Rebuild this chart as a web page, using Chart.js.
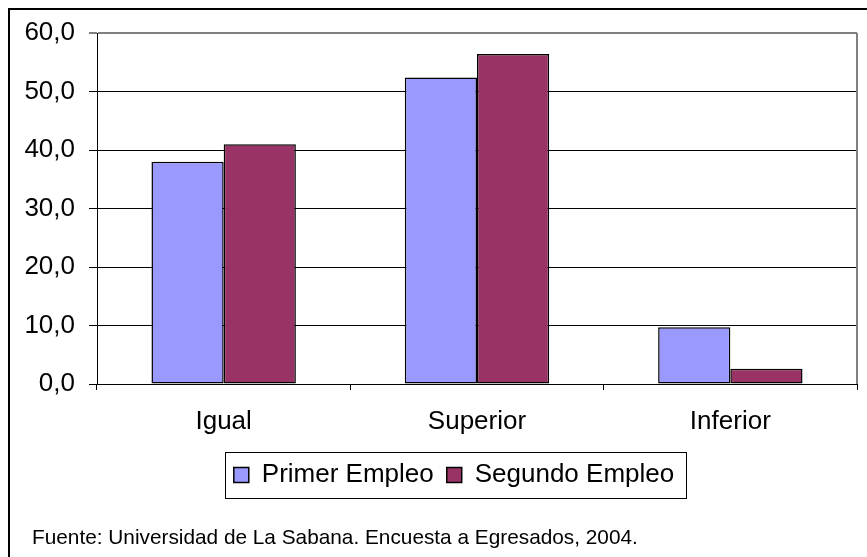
<!DOCTYPE html>
<html>
<head>
<meta charset="utf-8">
<script src="https://cdn.jsdelivr.net/npm/chart.js@4.4.0/dist/chart.umd.min.js"></script>
<style>
    html, body { margin: 0; padding: 0; background: #fff; }
    #wrap { width: 867px; height: 557px; }
</style>
</head>
<body>
<div id="wrap"><canvas id="empleoChart" width="867" height="557"></canvas></div>
<script>
const categories = ['Igual', 'Superior', 'Inferior'];
const primerEmpleo = [38.0, 52.4, 9.7];
const segundoEmpleo = [41.0, 56.4, 2.6];
const yMin = 0;
const yMax = 60;
const yStep = 10;
const fuente = 'Fuente: Universidad de La Sabana. Encuesta a Egresados, 2004.';

const FONT = "'Liberation Sans', Arial, sans-serif";

// frame, plot border, legend box and source note
const decorations = {
    id: 'decorations',
    afterLayout(chart) {
        // legend sits a bit right of the canvas centre in the original
        const lg = chart.legend;
        const shift = 454 - (lg.left + lg.right) / 2;
        lg.left += shift;
        lg.right += shift;
    },
    afterDraw(chart) {
        const ctx = chart.ctx;
        const area = chart.chartArea;
        ctx.save();

        // outer frame (only top and left are visible)
        ctx.strokeStyle = '#000';
        ctx.lineWidth = 2;
        ctx.beginPath();
        ctx.moveTo(9, 600);
        ctx.lineTo(9, 9);
        ctx.lineTo(900, 9);
        ctx.stroke();

        // grey right edge of plot area
        ctx.strokeStyle = '#808080';
        ctx.lineWidth = 2;
        ctx.beginPath();
        ctx.moveTo(area.right, area.top);
        ctx.lineTo(area.right, area.bottom);
        ctx.stroke();

        // legend box
        const hb = chart.legend.legendHitBoxes;
        if (hb && hb.length) {
            const first = hb[0];
            const last = hb[hb.length - 1];
            const cy = first.top + first.height / 2;
            ctx.strokeStyle = '#000';
            ctx.lineWidth = 1;
            ctx.strokeRect(Math.round(first.left - 9) + 0.5, Math.round(cy - 23) + 0.5,
                Math.round(last.left + last.width + 12 - (first.left - 9)), 46);
        }

        // source note
        ctx.fillStyle = '#000';
        ctx.font = '20.8px ' + FONT;
        ctx.textBaseline = 'alphabetic';
        ctx.textAlign = 'left';
        ctx.fillText(fuente, 32, 544);
        ctx.restore();
    }
};

const ctx = document.getElementById('empleoChart').getContext('2d');
new Chart(ctx, {
    type: 'bar',
    data: {
        labels: categories,
        datasets: [{
            label: 'Primer Empleo',
            data: primerEmpleo,
            backgroundColor: '#9999FF',
            borderColor: '#000',
            borderWidth: 1.5,
            borderSkipped: false
        }, {
            label: 'Segundo Empleo',
            data: segundoEmpleo,
            backgroundColor: '#993366',
            borderColor: '#000',
            borderWidth: 1.5,
            borderSkipped: false
        }]
    },
    options: {
        responsive: false,
        animation: false,
        devicePixelRatio: 1,
        layout: {
            padding: { top: 33, right: 10, left: 0, bottom: 59 }
        },
        datasets: {
            bar: {
                barPercentage: 1,
                categoryPercentage: 0.57
            }
        },
        scales: {
            x: {
                offset: true,
                grid: {
                    offset: true,
                    drawOnChartArea: false,
                    drawTicks: true,
                    tickLength: 6,
                    color: '#000'
                },
                border: { color: '#000', width: 1 },
                ticks: {
                    color: '#000',
                    font: { family: FONT, size: 26 },
                    padding: 16,
                    maxRotation: 0
                },
                afterFit(scale) { scale.height = 65; }
            },
            y: {
                min: yMin,
                max: yMax,
                grid: {
                    color: (c) => c.tick && c.tick.value === yMax ? '#808080' : '#000',
                    lineWidth: (c) => c.tick && c.tick.value === yMax ? 2 : 1,
                    tickLength: 8,
                    drawTicks: true
                },
                border: { color: '#000', width: 1 },
                ticks: {
                    stepSize: yStep,
                    color: '#000',
                    font: { family: FONT, size: 26 },
                    padding: 14,
                    callback: (v) => v.toFixed(1).replace('.', ',')
                },
                afterFit(scale) { scale.width = 97; }
            }
        },
        plugins: {
            legend: {
                position: 'bottom',
                labels: {
                    color: '#000',
                    font: { family: FONT, size: 26 },
                    boxWidth: 15,
                    boxHeight: 15,
                    padding: 13
                }
            },
            tooltip: { enabled: false }
        }
    },
    plugins: [decorations]
});
</script>
</body>
</html>
